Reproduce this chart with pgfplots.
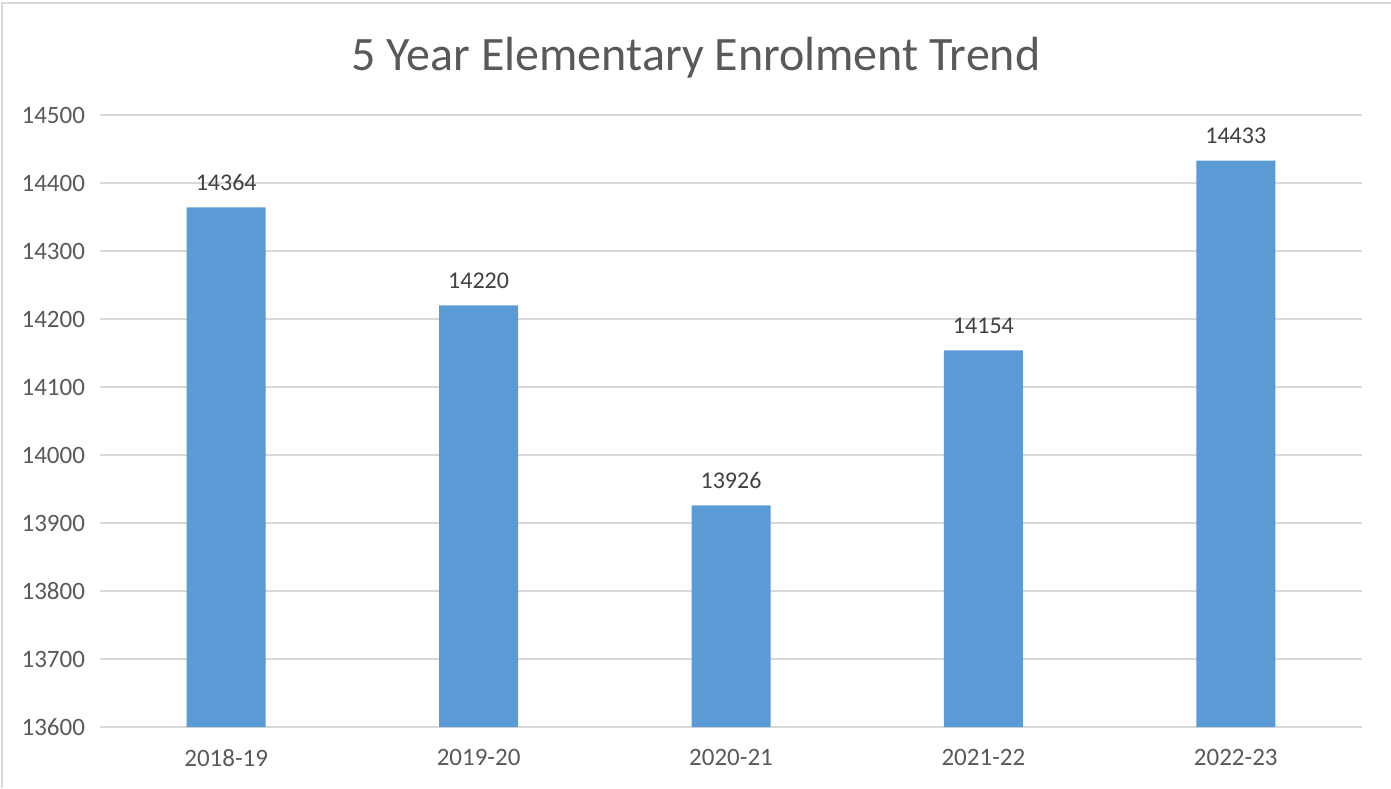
\documentclass[border=0pt]{standalone}
\usepackage{pgfplots}
\pgfplotsset{compat=1.18}
\usepackage{fontspec}
\setmainfont{Carlito}
\definecolor{barblue}{HTML}{5B9BD5}
\definecolor{gridgray}{HTML}{D9D9D9}
\definecolor{txtgray}{HTML}{595959}
\definecolor{lblgray}{HTML}{404040}

\begin{document}
\begin{tikzpicture}
% picture frame: 1391x788 px at 0.5pt per px, axis origin at (100px,727px from top)
\path[use as bounding box] (-50pt,-30.5pt) rectangle (645.5pt,363.5pt);
\draw[gridgray, line width=0.8pt] (-49pt,-30.5pt) -- (-49pt,362pt) -- (645.5pt,362pt);
\begin{axis}[
  at={(0pt,0pt)}, anchor=south west,
  scale only axis, width=631pt, height=306pt,
  xmin=-0.5, xmax=4.5, ymin=13600, ymax=14500,
  ybar, bar width=39.5pt, bar shift=0pt,
  xtick={0,1,2,3,4}, xticklabels={2018-19,2019-20,2020-21,2021-22,2022-23},
  ytick={13600,13700,13800,13900,14000,14100,14200,14300,14400,14500},
  scaled y ticks=false,
  yticklabel={\pgfmathprintnumber[fixed,precision=0,set thousands separator={}]{\tick}},
  ymajorgrids, grid style={gridgray, line width=0.8pt},
  axis x line*=bottom, axis y line*=left,
  x axis line style={-, draw=gridgray, line width=0.8pt},
  y axis line style={draw=none},
  major tick length=0pt,
  tick label style={font=\fontsize{12.5}{14}\selectfont, text=txtgray},
  /pgf/number format/assume math mode=true,
  /pgf/number format/set thousands separator={},
  yticklabel style={xshift=-4pt},
  xticklabel style={yshift=-7.5pt},
  title={5 Year Elementary Enrolment Trend},
  title style={font=\fontsize{24}{28}\selectfont, text=txtgray, at={(rel axis cs:0.5,1)}, anchor=center, xshift=-17.5pt, yshift=22.5pt},
  nodes near coords,
  nodes near coords style={font=\fontsize{12}{14}\selectfont, text=lblgray, anchor=south, yshift=5pt,
    /pgf/number format/assume math mode=true, /pgf/number format/set thousands separator={}},
]
\addplot[fill=barblue, draw=none] coordinates {(0,14364) (1,14220) (2,13926) (3,14154) (4,14433)};
\end{axis}
\end{tikzpicture}
\end{document}
